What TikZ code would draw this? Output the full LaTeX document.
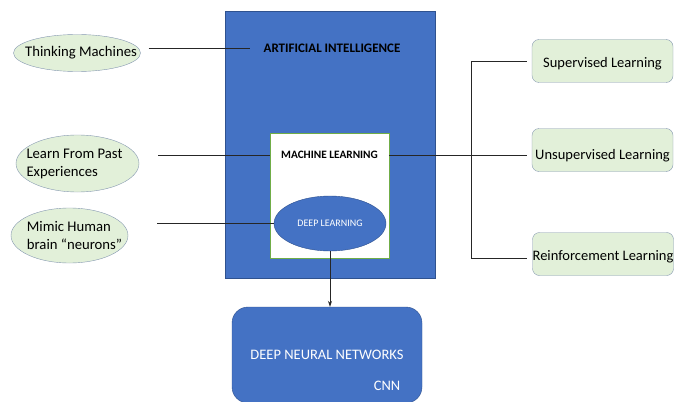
\documentclass[tikz,border=0pt]{standalone}
\usepackage{fontspec}
\setmainfont{Carlito}
\usetikzlibrary{shapes.geometric,arrows.meta}
\definecolor{aiblue}{HTML}{4472C4}
\definecolor{blueedge}{HTML}{2F528F}
\definecolor{pale}{HTML}{E2F0D9}
\definecolor{edge}{HTML}{8497B0}
\definecolor{mlgreen}{HTML}{70AD47}
\definecolor{linegray}{HTML}{262626}
\begin{document}
\begin{tikzpicture}[x=1pt, y=-1pt,
  ell/.style={ellipse, draw=edge, fill=pale, inner sep=0pt},
  lbl/.style={font=\fontsize{14.7}{18}\selectfont, align=left},
  rbox/.style={rounded corners=7pt, draw=edge, fill=pale, inner sep=0pt, text height=15pt,
    minimum width=141pt, minimum height=43pt, font=\fontsize{14.5}{18}\selectfont},
  big/.style={draw=blueedge, fill=aiblue},
  head/.style={font=\bfseries\fontsize{13}{15}\selectfont},
  wtxt/.style={text=white, font=\fontsize{14.5}{18}\selectfont},
  ln/.style={draw=linegray, line width=0.7pt}
]
\useasboundingbox (0,0) rectangle (687,401);
\clip (0,0) rectangle (687,401);

% nested areas
\node[big, minimum width=210pt, minimum height=267pt] (ai) at (330,144.5) {};
\node[head, inner xsep=13pt] (aitxt) at (332,48) {ARTIFICIAL INTELLIGENCE};
\node[draw=mlgreen, fill=white, minimum width=119pt, minimum height=125pt] (ml) at (329.5,195.5) {};
\node[head, font=\bfseries\fontsize{11.3}{14}\selectfont] (mltxt) at (329.5,155) {MACHINE LEARNING};
\node[ellipse, big, inner sep=0pt, minimum width=112pt, minimum height=55pt,
  text=white, font=\fontsize{10}{12}\selectfont] (dl) at (330,223.5) {DEEP LEARNING};
\node[big, rounded corners=16pt, minimum width=190pt, minimum height=96pt, wtxt] (dnn) at (327,355) {DEEP NEURAL NETWORKS};
\node[wtxt] (cnn) at (387,386) {CNN};

% left ellipses
\node[ell, minimum width=127pt, minimum height=37pt,
  label={[lbl, xshift=4pt]center:Thinking Machines}] (tm) at (77,53) {};
\node[ell, minimum width=123pt, minimum height=57pt,
  label={[lbl, xshift=-3pt]center:Learn From Past\\Experiences}] (lp) at (77.5,163.5) {};
\node[ell, minimum width=117pt, minimum height=55pt,
  label={[lbl, xshift=5pt]center:Mimic Human\\brain ``neurons''}] (mh) at (69.5,235.5) {};

% right boxes
\node[rbox] (sl) at (602.5,61) {Supervised Learning};
\node[rbox, text height=21pt] (ul) at (602.5,150) {Unsupervised Learning};
\node[rbox, text height=16pt] (rl) at (603,254) {Reinforcement Learning};

% connectors
\draw[ln, shorten <=8pt] (tm.east |- aitxt.west) -- (aitxt.west);
\draw[ln, shorten <=19pt] (lp.east |- mltxt) -- (ml.west |- mltxt);
\draw[ln, shorten <=29pt] (mh.east |- dl.west) -- (dl.west);
\draw[ln, shorten >=5pt] (ml.east |- mltxt) -- (ul.west |- mltxt);
\coordinate (bt) at (471,61);
\coordinate (bb) at (471,258);
\draw[ln, shorten <=5pt, shorten >=5pt] (sl.west) -- (bt) -- (bb) -- (rl.west |- bb);
\draw[ln, -{Stealth[length=6pt, width=4pt]}] (dl.south) -- (dl.south |- dnn.north);
\end{tikzpicture}
\end{document}
